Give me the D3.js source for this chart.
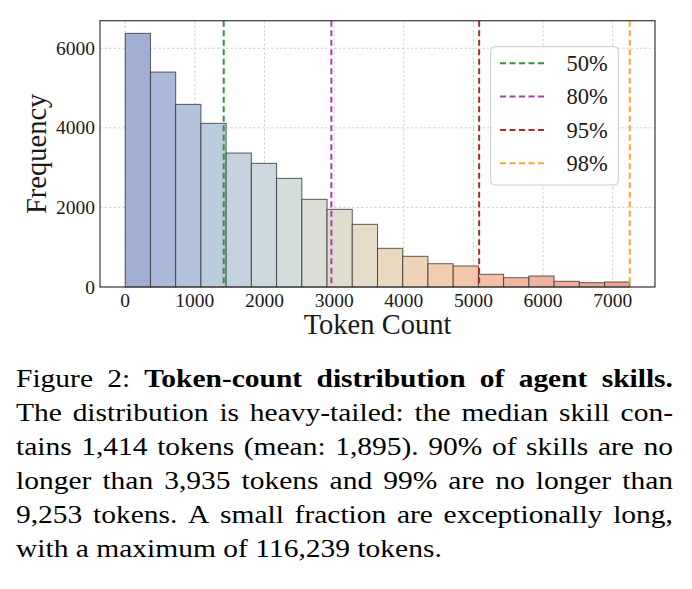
<!DOCTYPE html>
<html>
<head>
<meta charset="utf-8">
<script src="https://cdn.jsdelivr.net/npm/d3@7"></script>
<style>
  body { margin: 0; background: #fff; }
  svg { display: block; font-family: "Liberation Serif", "DejaVu Serif", serif; }
</style>
</head>
<body>
<svg width="692" height="589"></svg>
<script>
// histogram: 20 equal bins from 0 up to the 98th percentile
var binStart = 0,
    binEnd = 7245;
var counts = [6374, 5402, 4590, 4113, 3367, 3108, 2731, 2204, 1952, 1575,
              972, 771, 585, 528, 319, 234, 276, 143, 108, 126];

var pctLabels = ["50%", "80%", "95%", "98%"];
var pctValues = [1414, 2960, 5082, 7245];
var pctColors = ["#33923a", "#a63cb2", "#b02a2a", "#ffa534"];

var xTicks = [0, 1000, 2000, 3000, 4000, 5000, 6000, 7000];
var yTicks = [0, 2000, 4000, 6000];

var captionLines = [
  [["Figure 2:", false], ["Token-count distribution of agent skills.", true]],
  [["The distribution is heavy-tailed: the median skill con-", false]],
  [["tains 1,414 tokens (mean: 1,895). 90% of skills are no", false]],
  [["longer than 3,935 tokens and 99% are no longer than", false]],
  [["9,253 tokens. A small fraction are exceptionally long,", false]],
  [["with a maximum of 116,239 tokens.", false]]
];

var svg = d3.select("svg");

// NB: "top" is taken by window.top, so prefixed names
var plotL = 100, plotR = 655, plotT = 20.7, plotB = 287;

var nBins = counts.length,
    binWidth = (binEnd - binStart) / nBins,
    pad = (binEnd - binStart) * 0.05;

var x = d3.scaleLinear()
    .domain([binStart - pad, binEnd + pad])
    .range([plotL, plotR]);

var y = d3.scaleLinear()
    .domain([0, d3.max(counts) * 1.05])
    .range([plotB, plotT]);

var bins = counts.map(function(c, i) {
  return { x0: binStart + i * binWidth, x1: binStart + (i + 1) * binWidth, n: c };
});

// pastel blue -> beige -> salmon
var color = d3.piecewise(d3.interpolateRgb, ["#a3aed4", "#bccedf", "#d6dfdc", "#e9dcc3", "#f4c8aa", "#f1b2a0", "#f0a292"]);

// grid
var grid = svg.append("g").attr("class", "grid")
    .attr("stroke", "#c8c8c8")
    .attr("stroke-width", 0.8)
    .attr("stroke-dasharray", "2.5,2");

grid.selectAll("line.gx")
    .data(xTicks)
    .enter().append("line")
      .attr("class", "gx")
      .attr("x1", function(d) { return x(d); })
      .attr("x2", function(d) { return x(d); })
      .attr("y1", plotT)
      .attr("y2", plotB);

grid.selectAll("line.gy")
    .data(yTicks)
    .enter().append("line")
      .attr("class", "gy")
      .attr("x1", plotL)
      .attr("x2", plotR)
      .attr("y1", function(d) { return y(d); })
      .attr("y2", function(d) { return y(d); });

// bars
svg.append("g")
    .attr("class", "bars")
  .selectAll("rect")
  .data(bins)
  .enter().append("rect")
    .attr("x", function(d) { return x(d.x0); })
    .attr("y", function(d) { return y(d.n); })
    .attr("width", function(d) { return x(d.x1) - x(d.x0); })
    .attr("height", function(d) { return y(0) - y(d.n); })
    .attr("fill", function(d, i) { return color(i / (nBins - 1)); })
    .attr("stroke", "#2a2a2a")
    .attr("stroke-opacity", 0.75)
    .attr("stroke-width", 1);

// percentile lines
svg.append("g")
    .attr("class", "percentiles")
  .selectAll("line")
  .data(pctValues)
  .enter().append("line")
    .attr("x1", function(d) { return x(d); })
    .attr("x2", function(d) { return x(d); })
    .attr("y1", plotT)
    .attr("y2", plotB)
    .attr("stroke", function(d, i) { return pctColors[i]; })
    .attr("stroke-width", 2)
    .attr("stroke-dasharray", "6,3.5");

// frame
svg.append("rect")
    .attr("x", plotL)
    .attr("y", plotT)
    .attr("width", plotR - plotL)
    .attr("height", plotB - plotT)
    .attr("fill", "none")
    .attr("stroke", "#3a3a3a")
    .attr("stroke-width", 1.2);

// tick labels
svg.append("g")
  .selectAll("text")
  .data(xTicks)
  .enter().append("text")
    .attr("x", function(d) { return x(d); })
    .attr("y", 306.5)
    .attr("text-anchor", "middle")
    .attr("font-size", 19.5)
    .attr("fill", "#1a1a1a")
    .text(function(d) { return d; });

svg.append("g")
  .selectAll("text")
  .data(yTicks)
  .enter().append("text")
    .attr("x", 95)
    .attr("y", function(d) { return y(d) + 6.6; })
    .attr("text-anchor", "end")
    .attr("font-size", 19.5)
    .attr("fill", "#1a1a1a")
    .text(function(d) { return d; });

// axis titles
svg.append("text")
    .attr("x", (plotL + plotR) / 2)
    .attr("y", 333.5)
    .attr("text-anchor", "middle")
    .attr("font-size", 28.5)
    .attr("fill", "#1a1a1a")
    .text("Token Count");

svg.append("text")
    .attr("transform", "translate(45.5," + ((plotT + plotB) / 2) + ") rotate(-90)")
    .attr("text-anchor", "middle")
    .attr("font-size", 28.5)
    .attr("fill", "#1a1a1a")
    .text("Frequency");

// legend
var legend = svg.append("g").attr("class", "legend");
legend.append("rect")
    .attr("x", 490.7)
    .attr("y", 46.7)
    .attr("width", 127.6)
    .attr("height", 138.3)
    .attr("rx", 4)
    .attr("fill", "#fff")
    .attr("fill-opacity", 0.85)
    .attr("stroke", "#cccccc")
    .attr("stroke-width", 1);

var entry = legend.selectAll("g.entry")
    .data(pctLabels)
  .enter().append("g")
    .attr("class", "entry")
    .attr("transform", function(d, i) { return "translate(0," + (63.3 + i * 33.3) + ")"; });

entry.append("line")
    .attr("x1", 500)
    .attr("x2", 547)
    .attr("stroke", function(d, i) { return pctColors[i]; })
    .attr("stroke-width", 2)
    .attr("stroke-dasharray", "6,3.5");

entry.append("text")
    .attr("x", 566.5)
    .attr("y", 7.8)
    .attr("font-size", 22.5)
    .attr("fill", "#1a1a1a")
    .text(function(d) { return d; });

// caption, justified line by line (glyphs a little squashed vertically, like the scan)
var capSize = 29.5,
    capSy = 0.88,
    capLeft = 16,
    capRight = 673,
    capY0 = 386.7,
    capStep = 34;

var cap = svg.append("g").attr("class", "caption").attr("font-size", capSize).attr("fill", "#000");

function measure(str, bold) {
  var t = cap.append("text").attr("font-weight", bold ? "bold" : null).text(str);
  var w = t.node().getComputedTextLength();
  t.remove();
  return w;
}
var spaceW = measure("a a", false) - measure("aa", false);

captionLines.forEach(function(line, li) {
  var words = [];
  line.forEach(function(seg) {
    seg[0].split(" ").forEach(function(w) { words.push({ w: w, bold: seg[1] }); });
  });
  words.forEach(function(d) { d.len = measure(d.w, d.bold); });
  var total = d3.sum(words, function(d) { return d.len; });
  var gap = spaceW;
  if (li < captionLines.length - 1) {
    gap = (capRight - capLeft - total) / (words.length - 1);
  }
  var xpos = capLeft;
  words.forEach(function(d) {
    cap.append("text")
        .attr("transform", "translate(" + xpos + "," + (capY0 + li * capStep) + ") scale(1," + capSy + ")")
        .attr("font-weight", d.bold ? "bold" : null)
        .text(d.w);
    xpos += d.len + gap;
  });
});
</script>
</body>
</html>
